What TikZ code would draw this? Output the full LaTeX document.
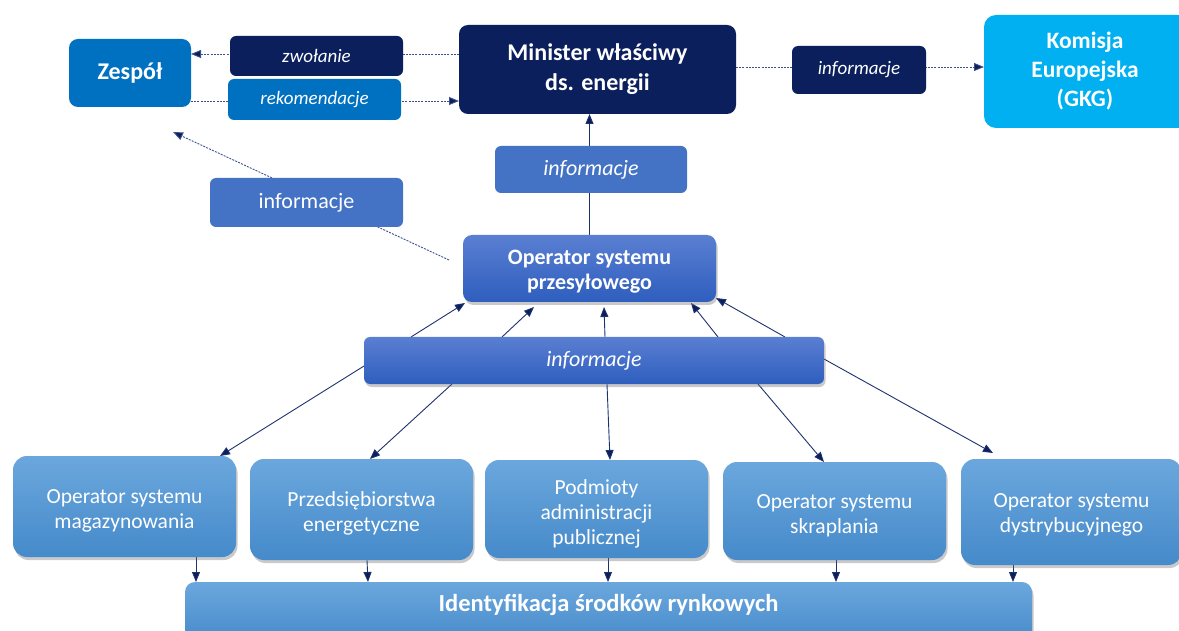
\documentclass[tikz,border=0pt]{standalone}
\usepackage{fontspec}
\setmainfont{Carlito}
\usetikzlibrary{arrows.meta,shadows,calc,backgrounds}
\definecolor{navy}{HTML}{0A1F5C}
\definecolor{midblue}{HTML}{0070C0}
\definecolor{skyblue}{HTML}{00B0F0}
\definecolor{infoblue}{HTML}{4472C4}
\definecolor{ospTop}{HTML}{5A7FD2}
\definecolor{ospBot}{HTML}{2E5EBE}
\definecolor{lowTop}{HTML}{6BA7DD}
\definecolor{lowBot}{HTML}{458ACA}
\definecolor{dashcol}{HTML}{3D5190}
\definecolor{arrcol}{HTML}{1E3270}
\newcommand{\mltext}[2]{\raisebox{#1}[\height][\depth]{\begin{tabular}{@{}c@{}}#2\end{tabular}}}
\tikzset{
  box/.style={rectangle, rounded corners=9pt, text=white, align=center, inner sep=0pt, outer sep=0pt},
  flatbox/.style={box, draw=none},
  shadowbox/.style={box, drop shadow={shadow xshift=1.5pt, shadow yshift=-3pt, opacity=0.35, fill=black!60}},
  lowbox/.style={shadowbox, top color=lowTop, bottom color=lowBot, rounded corners=14pt, minimum width=223pt, font=\fontsize{21.5}{25}\selectfont},
  dasharrow/.style={draw=dashcol, line width=0.9pt, dash pattern=on 2pt off 1.2pt, -{Triangle[length=10pt,width=8pt,fill=navy]}},
  solidarrow/.style={draw=arrcol, line width=0.9pt, -{Triangle[length=10pt,width=8pt,fill=navy]}},
}
\begin{document}
\begin{tikzpicture}[x=1pt,y=-1pt]
\useasboundingbox (0,0) rectangle (1179,631);
% top row
\node[flatbox, fill=midblue, minimum width=122pt, minimum height=68pt, font=\fontsize{24}{30}\selectfont\bfseries] (zesp) at (130,73) {Zespół};
\node[flatbox, fill=navy, rounded corners=6pt, minimum width=173pt, minimum height=40pt, font=\fontsize{19}{23}\selectfont\itshape] (zwol) at (316.5,56) {zwołanie};
\node[flatbox, fill=midblue, rounded corners=6pt, minimum width=173pt, minimum height=41pt, font=\fontsize{19}{23}\selectfont\itshape] (rek) at (314.5,99.5) {rekomendacje};
\node[flatbox, fill=navy, minimum width=277pt, minimum height=89pt, font=\fontsize{24}{30}\selectfont\bfseries] (min) at (597.5,69.5) {Minister właściwy\\ds. energii};
\node[flatbox, fill=navy, rounded corners=6pt, minimum width=134pt, minimum height=48pt, font=\fontsize{19}{23}\selectfont\itshape] (infoTR) at (859,70) {informacje};
\node[flatbox, fill=skyblue, rounded corners=12pt, minimum width=206pt, minimum height=113pt, font=\fontsize{23.5}{29}\selectfont\bfseries] (kom) at (1087,71.5) {\hspace*{-4pt}Komisja\\\hspace*{-4pt}Europejska\\\hspace*{-4pt}(GKG)};
% middle
\node[flatbox, fill=infoblue, rounded corners=6pt, minimum width=192pt, minimum height=47pt, font=\fontsize{22}{26}\selectfont\itshape] (infoM) at (591,169.5) {informacje};
\node[flatbox, fill=infoblue, rounded corners=6pt, minimum width=193pt, minimum height=49pt, font=\fontsize{22}{26}\selectfont] (infoL) at (306.5,202.5) {informacje};
\node[shadowbox, top color=ospTop, bottom color=ospBot, minimum width=253pt, minimum height=67pt, font=\fontsize{22}{25}\selectfont\bfseries] (osp) at (589.5,268.5) {\mltext{-4pt}{Operator systemu\\przesyłowego}};
\node[shadowbox, top color=ospTop, bottom color=ospBot, rounded corners=6pt, minimum width=460pt, minimum height=47pt, font=\fontsize{22}{26}\selectfont\itshape] (infoW) at (594,360.5) {informacje};
% bottom boxes
\node[lowbox, minimum height=101pt] (mag) at (124.5,506.5) {\mltext{-4pt}{Operator systemu\\magazynowania}};
\node[lowbox, minimum height=101pt] (prz) at (361.5,509.5) {\mltext{-4pt}{Przedsiębiorstwa\\energetyczne}};
\node[lowbox, minimum height=98pt] (pod) at (596.5,509) {\mltext{-5pt}{Podmioty\\administracji\\publicznej}};
\node[lowbox, minimum height=98pt] (skr) at (834.5,511) {\mltext{-5pt}{Operator systemu\\skraplania}};
\node[lowbox, minimum width=221pt, minimum height=106pt] (dys) at (1071.5,512) {\mltext{-3pt}{Operator systemu\\dystrybucyjnego}};
\node[shadowbox, top color=lowTop, bottom color=lowBot, rounded corners=10pt, minimum width=847pt, minimum height=62pt, font=\fontsize{24.5}{28}\selectfont\bfseries] (ident) at (608.5,613) {\raisebox{8pt}[\height][\depth]{Identyfikacja środków rynkowych}};
% free ends
\coordinate (zt) at (173,132);
\coordinate (os) at (449,260);
\begin{scope}[on background layer]
\fill[white] (0,0) rectangle (1179,631);
% dashed top connectors
\draw[dasharrow] (min.west |- 0,54) -- (zesp.east |- 0,54);
\draw[dasharrow] (zesp.east |- 0,101) -- (min.west |- 0,101);
\draw[dasharrow] (min.east |- 0,67) -- (kom.west |- 0,67);
\draw[dasharrow] (os) -- (zt);
% OSP to Minister
\draw[solidarrow] (osp.north) -- (osp.north |- min.south);
% informacje to OSP
\draw[solidarrow] (infoW.north -| 411,0) -- (465,303);
\draw[solidarrow] (infoW.north -| 502,0) -- (534,307);
\draw[solidarrow] (infoW.north -| 605,0) -- (604,307);
\draw[solidarrow] (infoW.north -| 718,0) -- (691,303);
\draw[solidarrow] (infoW.north -| 785,0) -- (716,298);
% informacje to bottom boxes
\draw[solidarrow] (infoW.west |- 0,366) -- (mag.north -| 220,0);
\draw[solidarrow] (infoW.south -| 452,0) -- (prz.north -| 370,0);
\draw[solidarrow] (infoW.south -| 607,0) -- (pod.north -| 610,0);
\draw[solidarrow] (infoW.south -| 758,0) -- (skr.north -| 824,0);
\draw[solidarrow] (infoW.east |- 0,359) -- (993,453);
% bottom boxes to identification
\draw[solidarrow] (mag.south -| 196,0) -- (ident.north -| 196,0);
\draw[solidarrow] (prz.south -| 367,0) -- (ident.north -| 368,0);
\draw[solidarrow] (pod.south -| 608,0) -- (ident.north -| 608,0);
\draw[solidarrow] (skr.south -| 836,0) -- (ident.north -| 836,0);
\draw[solidarrow] (dys.south -| 1013,0) -- (ident.north -| 1013,0);
\end{scope}
\end{tikzpicture}
\end{document}
